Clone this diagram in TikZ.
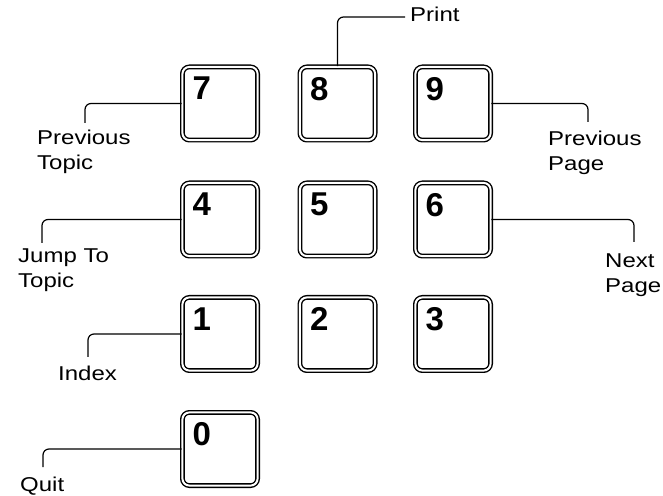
\documentclass[tikz,border=0pt]{standalone}
\usepackage{fontspec}
\setmainfont{Liberation Sans}
\newfontfamily\legendfont[FakeStretch=1.2]{Liberation Sans}
\usetikzlibrary{positioning}
\tikzset{
  keycap/.style={draw, line width=1.4pt, double, double distance=2pt,
    rounded corners=7pt, minimum width=75.2pt, minimum height=73.2pt, inner sep=0pt},
  keydigit/.style={anchor=north west, inner sep=0pt,
    font=\fontsize{33}{33}\selectfont\bfseries},
  leader/.style={line width=1.2pt, rounded corners=6pt},
  legend/.style={anchor=base west, inner sep=0pt, align=left,
    font=\legendfont\fontsize{20}{25}\selectfont},
}
\newcommand{\padkey}[3]{% name, centre, digit
  \node[keycap] (#1) at #2 {};
  \node[keydigit] (#1d) at ([shift={(10.6pt,-10.6pt)}]#1.north west) {#3};
}

\begin{document}
\begin{tikzpicture}[x=1pt, y=1pt]
  \useasboundingbox (0,0) rectangle (663,495);
  % keypad
  \padkey{k7}{(220,391.5)}{7}
  \padkey{k8}{(337.5,391.5)}{8}
  \padkey{k9}{(453,391.5)}{9}
  \padkey{k4}{(220,275.5)}{4}
  \padkey{k5}{(337.5,275.5)}{5}
  \padkey{k6}{(453,275.5)}{6}
  \padkey{k1}{(220,161)}{1}
  \padkey{k2}{(337.5,161)}{2}
  \padkey{k3}{(453,161)}{3}
  \padkey{k0}{(220,46)}{0}
  % leader ends
  \coordinate (c7) at (85,372);
  \coordinate (c4) at (42,252);
  \coordinate (c1) at (88,138);
  \coordinate (c0) at (43,28);
  \coordinate (c8) at (405,478);
  \coordinate (c9) at (588,373);
  \coordinate (c6) at (634,253);
  \draw[leader] (k7.west) -| (c7);
  \draw[leader] (k4.west) -| (c4);
  \draw[leader] (k1.west) -| (c1);
  \draw[leader] (k0.west) -| (c0);
  \draw[leader] (k8.north) |- (c8);
  \draw[leader] (k9.east) -| (c9);
  \draw[leader] (k6.east) -| (c6);
  % legends (two-line ones sit on their last line)
  \node[legend] (prevtopic) at (37,325) {Previous\\Topic};
  \node[legend] (jumptopic) at (18,207) {Jump To\\Topic};
  \node[legend] (index) at (58,114) {Index};
  \node[legend] (quit) at (20,4) {Quit};
  \node[legend] (print) at (410,473) {Print};
  \node[legend] (prevpage) at (548,324) {Previous\\Page};
  \node[legend] (nextpage) at (605,202) {Next\\Page};
\end{tikzpicture}
\end{document}
